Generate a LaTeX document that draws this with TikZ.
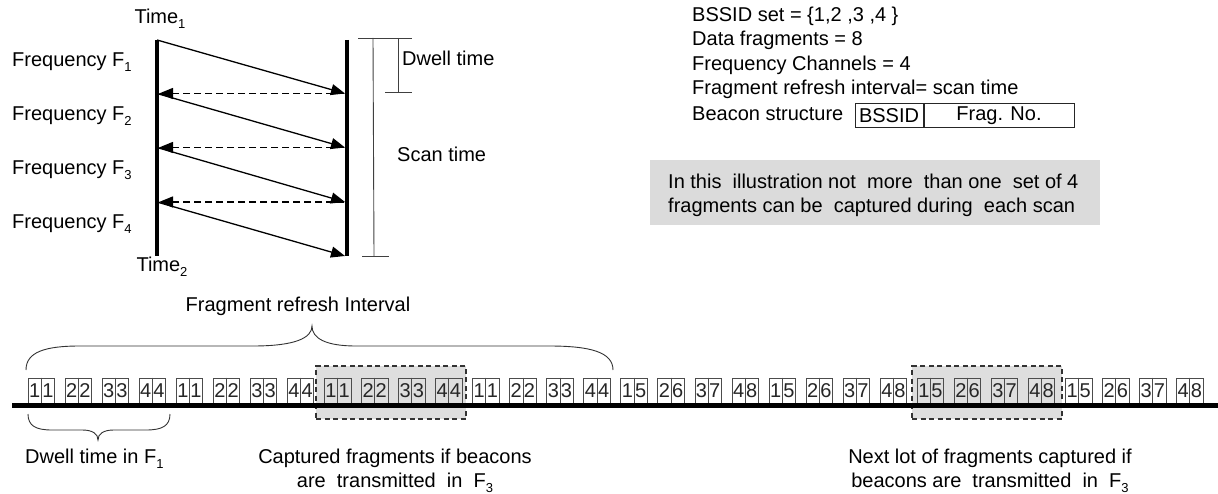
\documentclass[tikz,border=0pt]{standalone}
\usepackage{fontspec}
\setmainfont{Liberation Sans}
\usetikzlibrary{arrows.meta}
% index set low, as in channel and time labels
\newcommand\lowidx[1]{\raisebox{-4.5pt}{\fontsize{13}{13}\selectfont #1}}
\begin{document}
\begin{tikzpicture}[x=1pt,y=-1pt,
  font=\fontsize{20}{24}\selectfont,
  lbl/.style={anchor=west, inner sep=0pt},
  ctr/.style={inner sep=0pt},
  bar/.style={line width=4.5pt},
  sweep/.style={line width=1.3pt, -{Triangle[length=14pt,width=11pt]}},
  back/.style={line width=1.3pt, dash pattern=on 7pt off 4pt, -{Triangle[length=14pt,width=11pt]}},
  meas/.style={line width=0.9pt, draw=black!75},
  frag/.style={draw=black!70, line width=0.8pt, minimum width=26.5pt, minimum height=25pt, inner sep=0pt},
  digit/.style={inner sep=0pt, font=\fontsize{20}{22}\selectfont, text=black!85},
  capt/.style={draw=black!80, fill=black!13, dash pattern=on 5pt off 3.5pt, line width=1.2pt, inner sep=0pt},
  brace/.style={line width=0.9pt, draw=black!80},
  field/.style={draw=black!85, line width=1pt, minimum height=24pt, inner sep=0pt},
  note/.style={fill=black!14, inner sep=0pt}]
\useasboundingbox (0,0) rectangle (1218,494);

% ---------- channel scan: time runs down, one sweep per frequency ----------
\foreach \k/\y in {0/40,1/93.5,2/147.5,3/202,4/256} {
  \coordinate (l\k) at (157,\y);
  \coordinate (r\k) at (347,\y);
}
\draw[bar] (l0) -- (l4);
\draw[bar] (r0) -- (r4);
\foreach \k [evaluate=\k as \n using int(\k+1)] in {0,1,2,3}
  \draw[sweep] (l\k) -- ([xshift=-2pt]r\n);
\foreach \k in {1,2,3}
  \draw[back] ([xshift=-3pt]r\k) -- ([xshift=2pt]l\k);

\node[ctr] (t1) at (160,19) {Time\lowidx{1}};
\node[ctr] (t2) at (162,267) {Time\lowidx{2}};
\node[lbl] (fq1) at (12,62) {Frequency F\lowidx{1}};
\node[lbl] (fq2) at (12,116) {Frequency F\lowidx{2}};
\node[lbl] (fq3) at (12,170) {Frequency F\lowidx{3}};
\node[lbl] (fq4) at (12,224) {Frequency F\lowidx{4}};

% dwell and scan intervals
\coordinate (mt0) at (358,38);
\coordinate (mt1) at (412,38);
\draw[meas] (mt0) -- (mt1);
\coordinate (dw0) at (398,38);
\coordinate (dw1) at (398,92);
\draw[meas] (dw0) -- (dw1);
\coordinate (dwa) at (385,92);
\coordinate (dwb) at (412,92);
\draw[meas] (dwa) -- (dwb);
\coordinate (sc0) at (373,38);
\coordinate (sc1) at (374,256);
\draw[meas] (sc0) -- (sc1);
\coordinate (sca) at (362,256);
\coordinate (scb) at (389,256);
\draw[meas] (sca) -- (scb);
\node[lbl] (dwl) at (402,58) {Dwell time};
\node[lbl] (scl) at (397,154) {Scan time};

% ---------- parameters ----------
\node[lbl] (p1) at (692,16) {BSSID set = \{1,2 ,3 ,4 \}};
\node[lbl] (p2) at (692,40) {Data fragments = 8};
\node[lbl] (p3) at (692,65) {Frequency Channels = 4};
\node[lbl] (p4) at (692,89) {Fragment refresh interval= scan time};
\node[lbl] (p5) at (692,114) {Beacon structure};
\node[field, minimum width=68pt] (bssid) at (889,116) {BSSID};
\node[field, minimum width=150pt, anchor=west] (fragno) at (bssid.east) {Frag. No.};

\node[note, minimum width=450pt, minimum height=65pt, anchor=north west] (nbox) at (650,160) {};
\node[lbl, align=left] (ntxt) at (668,195)
  {In this\ \ illustration not\ \ more\ \ than one\ \ set of 4\\fragments can be\ \ captured during\ \ each scan};

% ---------- beacon stream ----------
\node[capt, minimum width=150pt, minimum height=53pt] (cap1) at (391,392.5) {};
\node[capt, minimum width=150pt, minimum height=53pt] (cap2) at (987,392.5) {};

\foreach \i in {0,...,31} {
  \pgfmathtruncatemacro\fa{mod(\i,4)+1}
  \pgfmathtruncatemacro\fb{\i<16 ? \fa : \fa+4}
  \node[frag] (f\i) at ({41.25+\i*37.05},390.5) {};
  \draw[draw=black!70, line width=0.8pt] (f\i.north) -- (f\i.south);
  \node[digit] at ([xshift=-6.6pt,yshift=-0.5pt]f\i.center) {\fa};
  \node[digit] at ([xshift=6.6pt,yshift=-0.5pt]f\i.center) {\fb};
}

\coordinate (ax0) at (12,405.5);
\coordinate (ax1) at (1218,405.5);
\draw[line width=5pt] (ax0) -- (ax1);

% refresh interval brace
\draw[brace] (26,370) .. controls (26,352) and (45,346) .. (80,346) -- (253,346)
  .. controls (295,346) and (312,338) .. (312,326)
  .. controls (312,338) and (325,346) .. (356,346) -- (549,346)
  .. controls (590,346) and (613,352) .. (613,370);
\node[ctr] (rfi) at (298,306) {Fragment refresh Interval};

% dwell brace
\draw[brace] (28,414) .. controls (28,426) and (36,430) .. (52,430) -- (82,430)
  .. controls (93,430) and (98,434) .. (98,440)
  .. controls (98,434) and (103,430) .. (114,430) -- (146,430)
  .. controls (162,430) and (170,426) .. (170,414);
\node[lbl] (dwf) at (25,459) {Dwell time in F\lowidx{1}};

\node[ctr, align=center] (cf1) at (395,471)
  {Captured fragments if beacons\\are\ \ transmitted\ \ in\ \ F\lowidx{3}};
\node[ctr, align=center] (cf2) at (990,471)
  {Next lot of fragments captured if\\beacons are\ \ transmitted\ \ in\ \ F\lowidx{3}};
\end{tikzpicture}
\end{document}
